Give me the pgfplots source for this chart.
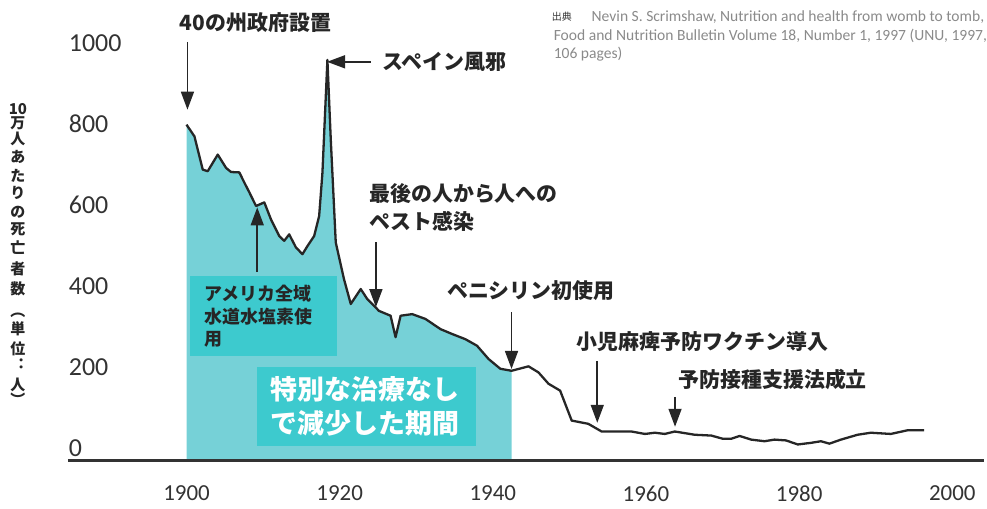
\documentclass[border=0pt]{standalone}
\usepackage{fontspec}
\usepackage{pgfplots}
\pgfplotsset{compat=1.18}
\usetikzlibrary{arrows.meta}
\setmainfont{Noto Sans CJK JP}
\newfontfamily\tickfont{Carlito}

\definecolor{areafill}{HTML}{76D1D7}
\definecolor{boxfill}{HTML}{3DCACE}
\definecolor{curve}{HTML}{262626}
\definecolor{axisgray}{HTML}{333333}
\definecolor{srcgray}{HTML}{8A8A8A}

% pixel grid of the reference image (1px = 0.5pt), origin at top left
\tikzset{px/.style={x=0.5pt,y=-0.5pt,shift={(-68,-462)}},
  arr/.style={curve, line width=0.8pt, -{Triangle[length=9pt,width=6.5pt]}},
  ann/.style={anchor=west, inner sep=0pt, font=\bfseries\fontsize{10.5}{12}\selectfont, text=curve}}

\begin{document}
\begin{tikzpicture}
\begin{scope}[px]
\path[use as bounding box] (0,0) rectangle (987,504);
\end{scope}

\begin{axis}[
    width=459.5pt, height=231pt,
    scale only axis,
    xmin=1884.5, xmax=2004.16,
    ymin=-32, ymax=1105.9,
    xtick={1900,1920,...,2000},
    ytick={0,200,...,1000},
    axis line style={draw=none},
    tick style={draw=none},
    /pgf/number format/1000 sep={},
    /pgf/number format/assume math mode=true,
    xticklabel style={anchor=center, yshift=-16.5pt, font=\tickfont\fontsize{11.5}{12}\selectfont, text=axisgray},
    yticklabel style={anchor=west, xshift=-3pt, font=\tickfont\fontsize{13}{13}\selectfont, text=axisgray},
    clip=false
]

% shaded period up to 1942
\addplot[fill=areafill, draw=none] coordinates {
    (1900,-32) (1900,798) (1901.04,769) (1902.12,687) (1902.77,683) (1904.08,724)
    (1905.17,691) (1905.82,681) (1906.90,680) (1907.55,655) (1908.20,631)
    (1909.08,597) (1910.16,606) (1911.03,564) (1912.11,523) (1912.76,511)
    (1913.41,527) (1914.28,495) (1915.14,478) (1915.79,498) (1916.67,523)
    (1917.32,572) (1917.75,679) (1918.40,958) (1918.84,761) (1919.49,507)
    (1920.57,416) (1921.45,355) (1922.75,392) (1923.61,367) (1924.26,355)
    (1925.13,338) (1926.65,326) (1927.30,273) (1927.96,326) (1929.47,330)
    (1931.21,318) (1933.16,293) (1934.67,281) (1936.42,268) (1937.93,252)
    (1939.45,219) (1940.98,195) (1942.45,190) (1942.45,-32)
} -- cycle;

\draw[line width=1.5pt, axisgray] (rel axis cs:0,0) -- (rel axis cs:1,0);

% mortality per 100,000
\addplot[curve, line width=1.15pt, line join=round] coordinates {
    (1900,798) (1901.04,769) (1902.12,687) (1902.77,683) (1904.08,724)
    (1905.17,691) (1905.82,681) (1906.90,680) (1907.55,655) (1908.20,631)
    (1909.08,597) (1910.16,606) (1911.03,564) (1912.11,523) (1912.76,511)
    (1913.41,527) (1914.28,495) (1915.14,478) (1915.79,498) (1916.67,523)
    (1917.32,572) (1917.75,679) (1918.40,958) (1918.84,761) (1919.49,507)
    (1920.57,416) (1921.45,355) (1922.75,392) (1923.61,367) (1924.26,355)
    (1925.13,338) (1926.65,326) (1927.30,273) (1927.96,326) (1929.47,330)
    (1931.21,318) (1933.16,293) (1934.67,281) (1936.42,268) (1937.93,252)
    (1939.45,219) (1940.98,195) (1942.45,190) (1944.66,201) (1945.96,186)
    (1947.27,158) (1948.79,141) (1950.30,67) (1952.47,59) (1954.21,40)
    (1958.11,40) (1959.86,34) (1961.16,37) (1962.46,34) (1963.76,40)
    (1966.37,32) (1968.53,30) (1970.05,22) (1971.13,22) (1972.23,29)
    (1973.74,20) (1975.48,16) (1976.78,20) (1978.29,18) (1979.82,8)
    (1981.55,12) (1982.85,16) (1983.95,10) (1985.46,20) (1987.63,32)
    (1989.36,37) (1991.97,34) (1994.14,43) (1996.31,43)
};
\end{axis}

\begin{scope}[px]
% text boxes
\fill[boxfill] (191,277) rectangle (338,357);
\fill[boxfill] (258,368) rectangle (477,447);
\node[anchor=west, inner sep=0pt, font=\bfseries\fontsize{9}{10}\selectfont, text=curve] at (205,294) {アメリカ全域};
\node[anchor=west, inner sep=0pt, font=\bfseries\fontsize{9}{10}\selectfont, text=curve] at (205,318) {水道水塩素使};
\node[anchor=west, inner sep=0pt, font=\bfseries\fontsize{9}{10}\selectfont, text=curve] at (205,340) {用};
\node[anchor=west, inner sep=0pt, font=\bfseries\fontsize{13.5}{15}\selectfont, text=white] at (271,390) {特別な治療なし};
\node[anchor=west, inner sep=0pt, font=\bfseries\fontsize{13.5}{15}\selectfont, text=white] at (271,425) {で減少した期間};

% arrows
\draw[arr] (188,42) -- (188,110);
\draw[arr] (372,62) -- (328,62);
\draw[arr] (377,243) -- (377,308);
\draw[arr] (513,313) -- (513,370);
\draw[arr] (599,362) -- (599,424);
\draw[arr] (677,398) -- (677,428);
\draw[arr] (258,273) -- (258,208);

% annotations
\node[ann] at (180,23) {40の州政府設置};
\node[ann] at (383,62) {スペイン風邪};
\node[ann] at (370,194) {最後の人から人への};
\node[ann] at (370,222) {ペスト感染};
\node[ann] at (448,291) {ペニシリン初使用};
\node[ann] at (578,343) {小児麻痺予防ワクチン導入};
\node[ann] at (680,381) {予防接種支援法成立};

% vertical y label
\foreach \yy/\ch in {109/10,124/万,139/人,157/あ,176/た,193/り,213/の,230/死,248/亡,270/者,290/数,316/︵,330/単,350/位,366/︓,386/人,400/︶}
  \node[inner sep=0pt, font=\bfseries\fontsize{7.5}{8}\selectfont, text=curve] at (18,\yy) {\ch};

% source
\node[anchor=west, inner sep=0pt, font=\fontsize{5}{5}\selectfont, text=axisgray] at (553,17) {出典};
\node[anchor=west, inner sep=0pt, font=\tickfont\fontsize{7.8}{8}\selectfont, text=srcgray] at (593,17) {Nevin S. Scrimshaw, Nutrition and health from womb to tomb,};
\node[anchor=west, inner sep=0pt, font=\tickfont\fontsize{7.8}{8}\selectfont, text=srcgray] at (555,36) {Food and Nutrition Bulletin Volume 18, Number 1, 1997 (UNU, 1997,};
\node[anchor=west, inner sep=0pt, font=\tickfont\fontsize{7.8}{8}\selectfont, text=srcgray] at (555,54) {106 pages)};
\end{scope}
\end{tikzpicture}
\end{document}
